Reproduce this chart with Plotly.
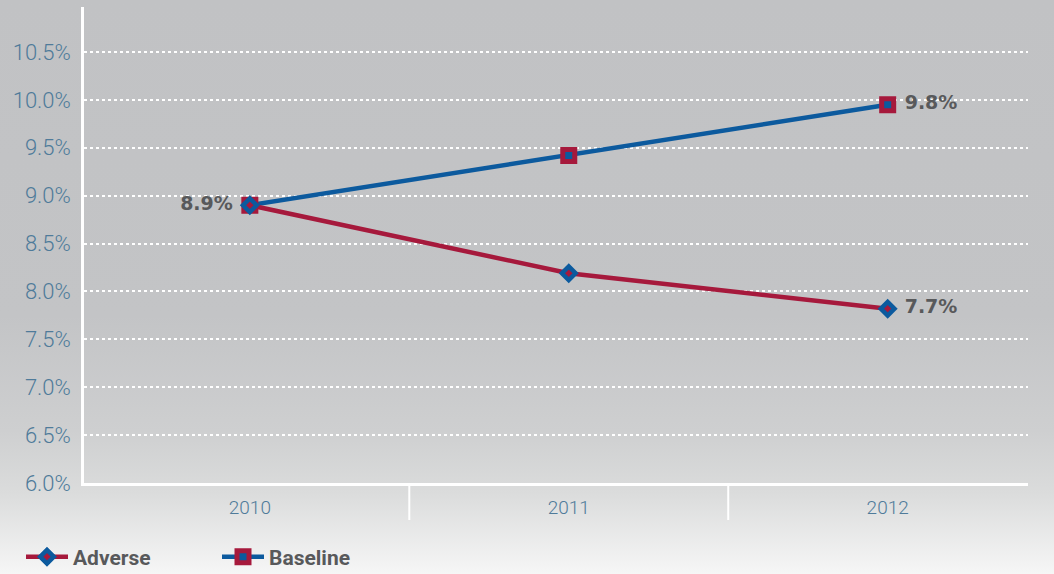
import base64
import plotly.graph_objects as go

# ---- data ----
years = ["2010", "2011", "2012"]
adverse = [8.90, 8.19, 7.82]
baseline = [8.90, 9.42, 9.95]
adverse_labels = ["8.9%", "", "7.7%"]
baseline_labels = ["", "", "9.8%"]
y_ticks = [6.0, 6.5, 7.0, 7.5, 8.0, 8.5, 9.0, 9.5, 10.0, 10.5]
y_tick_labels = ["6.0%", "6.5%", "7.0%", "7.5%", "8.0%", "8.5%", "9.0%", "9.5%", "10.0%", "10.5%"]

RED = "#a6193c"
BLUE = "#0c5a9e"
TICK_COLOR = "#4f7b9a"
LABEL_COLOR = "#58595b"


def ent(s):
    return s.replace("%", "&#37;")


W, H = 1054, 574
ML, MR, MT, MB = 84, 26, 7, 91
PW, PH = W - ML - MR, H - MT - MB

svg = (
    f'<svg xmlns="http://www.w3.org/2000/svg" width="{W}" height="{H}" preserveAspectRatio="none">'
    '<defs><linearGradient id="g" x1="0" y1="0" x2="0" y2="1">'
    '<stop offset="0" stop-color="#c1c2c4"/>'
    '<stop offset="0.55" stop-color="#c3c4c6"/>'
    '<stop offset="0.75" stop-color="#cecfd0"/>'
    '<stop offset="0.86" stop-color="#dbdcdc"/>'
    '<stop offset="1" stop-color="#f6f6f6"/>'
    '</linearGradient></defs>'
    f'<rect width="{W}" height="{H}" fill="url(#g)"/></svg>'
)
bg_src = "data:image/svg+xml;base64," + base64.b64encode(svg.encode()).decode()

fig = go.Figure()

fig.add_trace(go.Scatter(
    x=years, y=baseline, name="Baseline", mode="lines+markers",
    line=dict(color=BLUE, width=4.5),
    marker=dict(symbol="square", size=12, color=BLUE, line=dict(color=RED, width=5)),
    hoverinfo="skip",
))
fig.add_trace(go.Scatter(
    x=years, y=adverse, name="Adverse", mode="lines+markers",
    line=dict(color=RED, width=4.5),
    marker=dict(symbol="diamond", size=10.5, color=RED, line=dict(color=BLUE, width=4.5)),
    hoverinfo="skip",
))

# data labels (text traces with an invisible spacer marker to set the gap)
label_font = dict(family="DejaVu Sans", size=19, color=LABEL_COLOR, weight="bold")
for series, labels in ((adverse, adverse_labels), (baseline, baseline_labels)):
    positions = ["middle left" if i == 0 else "middle right" for i in range(len(labels))]
    fig.add_trace(go.Scatter(
        x=years, y=series, mode="markers+text",
        text=[ent(t) for t in labels], textposition=positions, textfont=label_font,
        marker=dict(size=25.6, color="rgba(0,0,0,0)"),
        showlegend=False, hoverinfo="skip",
    ))

# category dividers below the x axis
for k in range(len(years) - 1):
    fig.add_shape(
        type="line", xref="x", yref="paper",
        x0=k + 0.5, x1=k + 0.5, y0=0, y1=-37 / PH,
        line=dict(color="white", width=2), layer="above",
    )

fig.update_layout(
    width=W, height=H,
    margin=dict(l=ML, r=MR, t=MT, b=MB, pad=0),
    paper_bgcolor="#c2c3c5",
    plot_bgcolor="rgba(0,0,0,0)",
    showlegend=True,
    legend=dict(
        orientation="h", traceorder="reversed",
        xref="container", yref="container", x=21 / W, y=1 - 557 / H,
        xanchor="left", yanchor="middle",
        font=dict(family="Roboto, sans-serif", size=21, color=LABEL_COLOR, weight="bold"),
        bgcolor="rgba(0,0,0,0)", itemwidth=42, entrywidth=139,
    ),
    images=[dict(
        source=bg_src, xref="paper", yref="paper",
        x=-ML / PW, y=1 + MT / PH, sizex=W / PW, sizey=H / PH,
        xanchor="left", yanchor="top", sizing="stretch", layer="below",
    )],
)

fig.update_xaxes(
    type="category", range=[-0.52, 2.44],
    showline=True, linecolor="white", linewidth=3,
    showgrid=False, zeroline=False, ticks="",
    ticklabelstandoff=5,
    tickfont=dict(family="Roboto, sans-serif", size=19, color=TICK_COLOR, weight=300),
)
fig.update_yaxes(
    range=[6.0, 10.97], tickvals=y_ticks, ticktext=[ent(t) for t in y_tick_labels],
    showline=True, linecolor="white", linewidth=2.5,
    showgrid=True, gridcolor="white", gridwidth=1.5, griddash="dot",
    zeroline=False, ticks="", ticklabelstandoff=6,
    tickfont=dict(family="Roboto, sans-serif", size=22, color=TICK_COLOR, weight=300),
)

fig.write_html("out.html")
